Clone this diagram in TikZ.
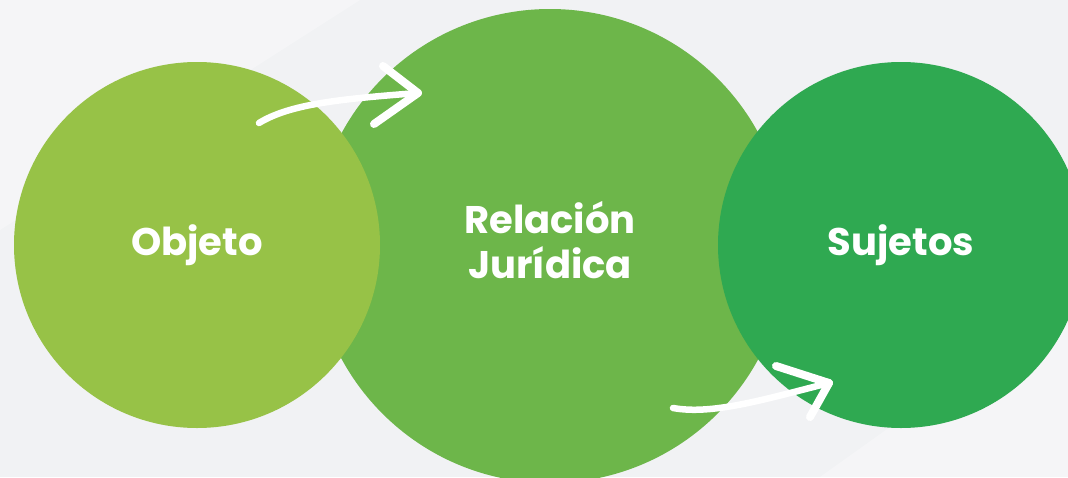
\documentclass[tikz,border=0pt]{standalone}
\usepackage{fontspec}
\setmainfont{Poppins}
\definecolor{bggray}{HTML}{F1F2F4}
\definecolor{objgreen}{HTML}{97C247}
\definecolor{relgreen}{HTML}{6DB64A}
\definecolor{sujgreen}{HTML}{2FA951}
\begin{document}
\begin{tikzpicture}[x=1pt,y=-1pt,bubble/.style={circle,inner sep=0pt},caption/.style={text=white,font=\fontsize{38.5}{45}\selectfont\bfseries,align=center},flow/.style={draw=white,line width=6.5pt,line cap=round,line join=round},barb/.style={draw=white,line width=8pt,line cap=round}]
        \fill[bggray] (0,0) rectangle (1068,477);
        \fill[white,opacity=.3] (0,0) -- (360,0) -- (0,230) -- cycle;
        \fill[white,opacity=.3] (1068,300) -- (1068,477) -- (820,477) -- cycle;
        \useasboundingbox (0,0) rectangle (1068,477);
        \node[bubble,fill=relgreen,minimum size=474pt] (rel) at (550,246) {};
        \node[caption] (reltext) at ([yshift=6pt]rel.center) {Relación\\Jurídica};
        \node[bubble,caption,fill=objgreen,minimum size=366pt] (obj) at (197,245) {Objeto};
        \node[bubble,caption,fill=sujgreen,minimum size=366pt] (suj) at (901,245) {Sujetos};
        \coordinate (objout) at (259,123);
        \coordinate (relin) at (418,93);
        \coordinate (relout) at (673,408);
        \coordinate (sujin) at (829,383);
        \draw[flow] (objout) .. controls (290,104) and (340,99) .. (relin);
        \draw[barb] (relin) -- ++(-35,-27);
        \draw[barb] (relin) -- ++(-44,31);
        \draw[flow] (relout) .. controls (712,415) and (762,400) .. (sujin);
        \draw[barb] (sujin) -- ++(-53,-17);
        \draw[barb] (sujin) -- ++(-19,34);
    \end{tikzpicture}
\end{document}
